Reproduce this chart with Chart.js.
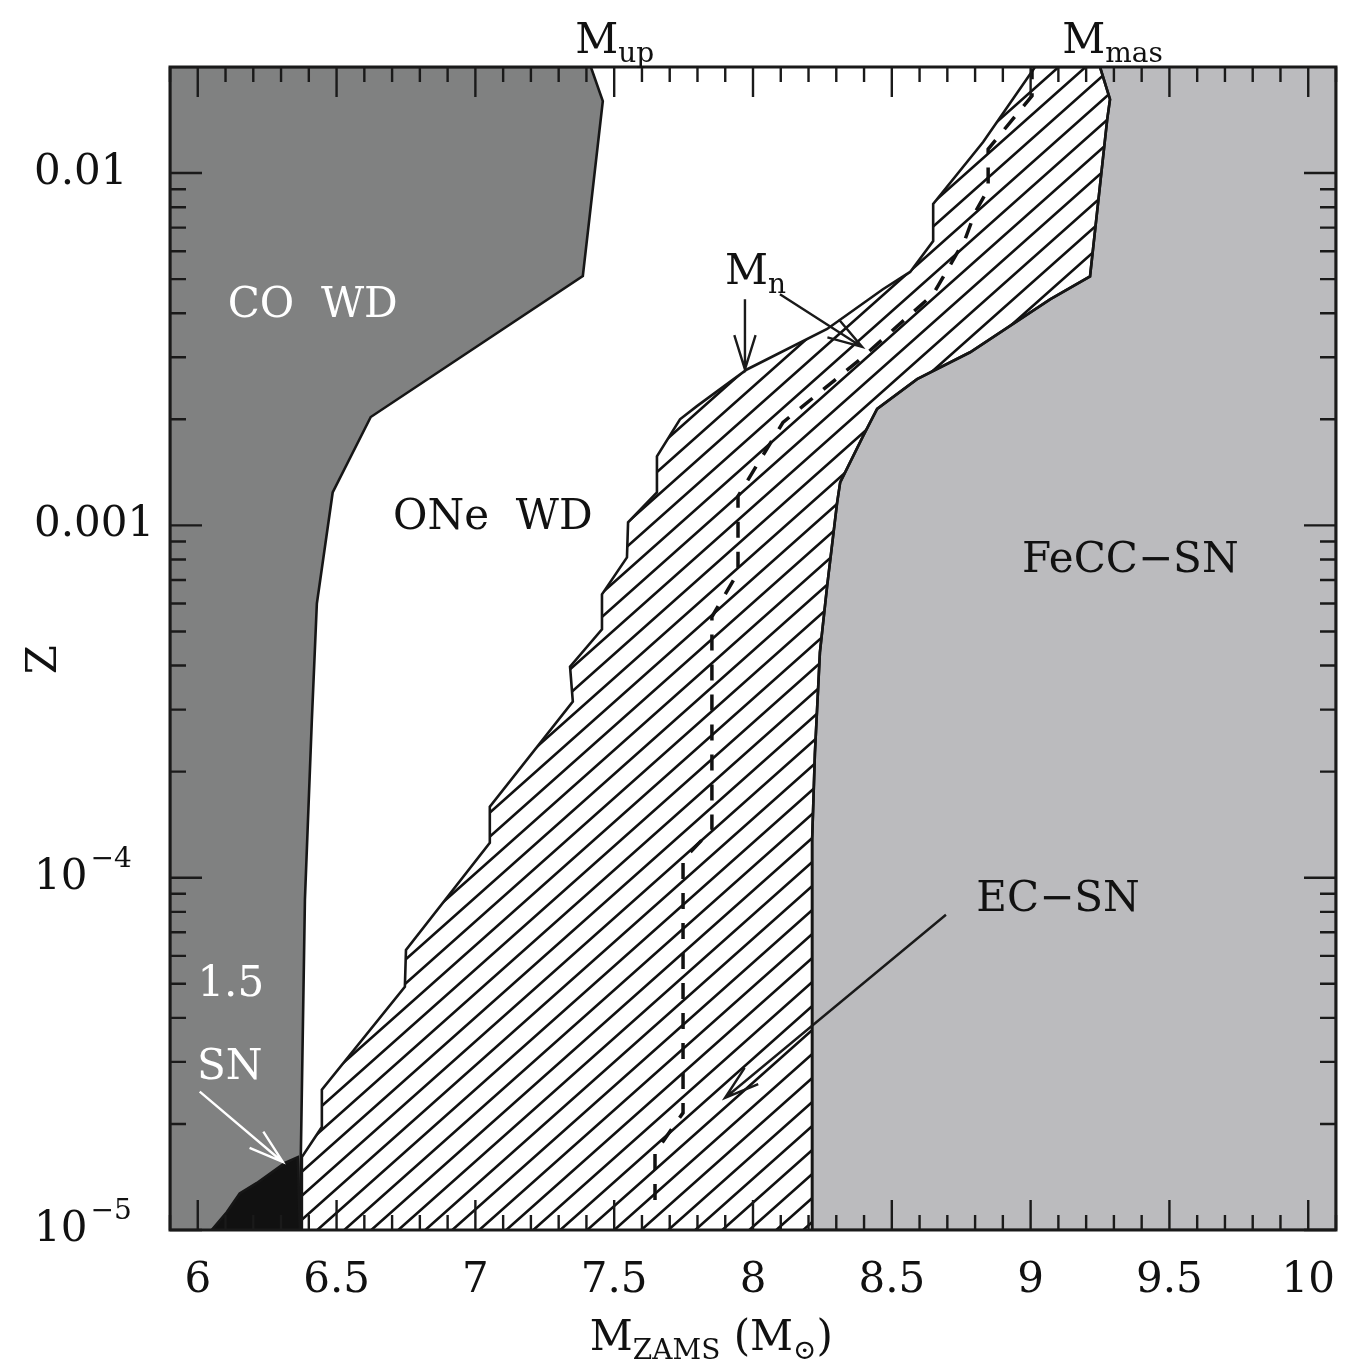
<!DOCTYPE html>
<html>
<head>
<meta charset="utf-8">
<script src="https://cdn.jsdelivr.net/npm/chart.js@4.4.1/dist/chart.umd.min.js"></script>
<style>
  html, body { margin: 0; padding: 0; background: #fff; }
  #wrap { width: 1346px; height: 1369px; position: relative; }
</style>
</head>
<body>
<div id="wrap"><canvas id="chart"></canvas></div>
<script>
// axis ranges and tick labels
const xMin = 5.9, xMax = 10.1;
const zMin = 1e-5, zMax = 0.02;
const xTickValues = [6, 6.5, 7, 7.5, 8, 8.5, 9, 9.5, 10];
const zTickValues = [1e-5, 1e-4, 1e-3, 1e-2];
const zTickBase = ["10", "10", "0.001", "0.01"];
const zTickExp = ["−5", "−4", "", ""];

// M_up : CO WD / ONe WD boundary (top to bottom)
const coMass = [7.416, 7.459, 7.387, 6.623, 6.486, 6.429, 6.411, 6.386, 6.371, 6.368];
const coZ = [0.02, 0.016, 0.0051, 0.00203, 0.00124, 6.0e-4, 2.81e-4, 8.66e-5, 1.58e-5, 1e-5];

// hybrid "1.5 SN" corner
const snMass = [6.05, 6.105, 6.151, 6.213, 6.314, 6.36, 6.368];
const snZ = [1e-5, 1.125e-5, 1.27e-5, 1.36e-5, 1.55e-5, 1.61e-5, 1e-5];

// EC-SN lower boundary (bottom to top)
const ecLowMass = [6.375, 6.375, 6.447, 6.447, 6.746, 6.750, 7.052, 7.052, 7.351, 7.341, 7.456, 7.456, 7.546,
  7.550, 7.654, 7.654, 7.737, 7.798, 7.978, 8.267, 8.468, 8.566, 8.649, 8.649, 8.829, 9.016];
const ecLowZ = [1e-5, 1.61e-5, 1.96e-5, 2.50e-5, 4.90e-5, 6.24e-5, 1.256e-4, 1.59e-4, 3.16e-4, 3.97e-4, 5.07e-4,
  6.37e-4, 8.11e-4, 1.02e-3, 1.24e-3, 1.57e-3, 2.0e-3, 2.18e-3, 2.77e-3, 3.61e-3, 4.68e-3, 5.24e-3, 6.41e-3,
  8.17e-3, 1.225e-2, 0.02];

// M_mas : EC-SN / FeCC-SN boundary (top to bottom)
const masMass = [9.25, 9.286, 9.276, 9.214, 9.070, 8.782, 8.591, 8.447, 8.396, 8.314, 8.303, 8.267, 8.241,
  8.223, 8.213, 8.213];
const masZ = [0.02, 0.0162, 0.01422, 5.09e-3, 4.38e-3, 3.10e-3, 2.60e-3, 2.14e-3, 1.79e-3, 1.325e-3, 1.16e-3,
  6.72e-4, 4.36e-4, 2.26e-4, 1.28e-4, 1e-5];

// M_n (dashed)
const mnMass = [7.647, 7.647, 7.748, 7.748, 7.852, 7.852, 7.946, 7.946, 8.108, 8.386, 8.649, 8.764, 8.8,
  8.847, 8.847, 9.005, 9.005];
const mnZ = [1.216e-5, 1.656e-5, 2.15e-5, 1.125e-4, 1.37e-4, 5.5e-4, 7.35e-4, 1.21e-3, 1.96e-3, 2.96e-3,
  4.53e-3, 6.49e-3, 7.74e-3, 9.0e-3, 0.0117, 0.01656, 0.0198];

// region labels (centre, data coords)
const regionText = ["CO  WD", "ONe  WD", "FeCC−SN", "EC−SN", "1.5", "SN"];
const regionMass = [6.414, 7.063, 9.359, 9.099, 6.119, 6.115];
const regionZ = [4.19e-3, 1.047e-3, 7.9e-4, 8.66e-5, 4.97e-5, 2.88e-5];
const regionWhite = [true, false, false, false, true, true];

// arrows: tail -> head
const arrowFrom = [[7.971, 4.38e-3], [8.097, 4.53e-3], [6.007, 2.47e-5], [8.695, 7.85e-5]];
const arrowTo = [[7.971, 2.77e-3], [8.393, 3.21e-3], [6.306, 1.56e-5], [7.899, 2.37e-5]];
const arrowWhite = [false, false, true, false];

const FONT = "DejaVu Serif";

function pts(xs, ys) {
  return xs.map((v, i) => ({ x: v, y: ys[i] }));
}

// diagonal hatch for the EC-SN band
function hatchPattern(ctx) {
  const w = 27, h = 24;
  const c = document.createElement("canvas");
  c.width = w;
  c.height = h;
  const g = c.getContext("2d");
  g.strokeStyle = "#111";
  g.lineWidth = 2.6;
  g.beginPath();
  for (const dx of [-w, 0, w]) {
    g.moveTo(dx - w, 2 * h);
    g.lineTo(dx + 2 * w, -h);
  }
  g.stroke();
  return ctx.createPattern(c, "repeat");
}

function drawSub(ctx, parts, x, y, align) {
  // parts: [text, isSub]
  const big = "42px '" + FONT + "'";
  const small = "28px '" + FONT + "'";
  let total = 0;
  for (const [t, s] of parts) {
    ctx.font = s ? small : big;
    total += ctx.measureText(t).width;
  }
  let cx = align === "center" ? x - total / 2 : x;
  ctx.textAlign = "left";
  ctx.textBaseline = "alphabetic";
  for (const [t, s] of parts) {
    ctx.font = s ? small : big;
    ctx.fillText(t, cx, s ? y + 9 : y);
    cx += ctx.measureText(t).width;
  }
}

function drawArrow(ctx, x1, y1, x2, y2, color) {
  const ang = Math.atan2(y2 - y1, x2 - x1);
  const hl = 36, ha = 0.3;
  ctx.strokeStyle = color;
  ctx.lineWidth = 2.4;
  ctx.beginPath();
  ctx.moveTo(x1, y1);
  ctx.lineTo(x2, y2);
  ctx.moveTo(x2 - hl * Math.cos(ang - ha), y2 - hl * Math.sin(ang - ha));
  ctx.lineTo(x2, y2);
  ctx.lineTo(x2 - hl * Math.cos(ang + ha), y2 - hl * Math.sin(ang + ha));
  ctx.stroke();
}

const overlay = {
  id: "overlay",
  afterDatasetsDraw(chart) {
    const { ctx, chartArea: a, scales: { x, y } } = chart;
    ctx.save();

    // inward tick marks on all four sides
    ctx.strokeStyle = "#1a1a1a";
    ctx.lineWidth = 2.4;
    ctx.beginPath();
    for (let i = Math.ceil(xMin * 10); i <= Math.floor(xMax * 10); i++) {
      const px = x.getPixelForValue(i / 10);
      const len = i % 5 === 0 ? 30 : 15;
      ctx.moveTo(px, a.bottom);
      ctx.lineTo(px, a.bottom - len);
      ctx.moveTo(px, a.top);
      ctx.lineTo(px, a.top + len);
    }
    for (let n = -5; n <= -2; n++) {
      for (let k = 1; k <= 9; k++) {
        const v = k * Math.pow(10, n);
        if (v < zMin * 0.999 || v > zMax * 0.999) continue;
        const py = y.getPixelForValue(v);
        const len = k === 1 ? 32 : 16;
        ctx.moveTo(a.left, py);
        ctx.lineTo(a.left + len, py);
        ctx.moveTo(a.right, py);
        ctx.lineTo(a.right - len, py);
      }
    }
    ctx.stroke();

    ctx.lineWidth = 3;
    ctx.strokeRect(a.left, a.top, a.right - a.left, a.bottom - a.top);

    // y tick labels
    ctx.fillStyle = "#111";
    zTickValues.forEach((v, i) => {
      const py = y.getPixelForValue(v);
      ctx.textAlign = "left";
      ctx.textBaseline = "middle";
      ctx.font = "42px '" + FONT + "'";
      ctx.fillText(zTickBase[i], a.left - 136, py);
      if (zTickExp[i]) {
        const w = ctx.measureText(zTickBase[i]).width;
        ctx.font = "28px '" + FONT + "'";
        ctx.fillText(zTickExp[i], a.left - 136 + w + 3, py - 18);
      }
    });

    // region labels
    ctx.textAlign = "center";
    ctx.textBaseline = "middle";
    ctx.font = "42px '" + FONT + "'";
    regionText.forEach((t, i) => {
      ctx.fillStyle = regionWhite[i] ? "#fff" : "#111";
      ctx.fillText(t, x.getPixelForValue(regionMass[i]), y.getPixelForValue(regionZ[i]));
    });

    // arrows
    arrowFrom.forEach((f, i) => {
      const t = arrowTo[i];
      drawArrow(ctx, x.getPixelForValue(f[0]), y.getPixelForValue(f[1]),
        x.getPixelForValue(t[0]), y.getPixelForValue(t[1]), arrowWhite[i] ? "#fff" : "#1a1a1a");
    });

    // M_n, M_up, M_mas labels
    ctx.fillStyle = "#111";
    drawSub(ctx, [["M", false], ["n", true]], x.getPixelForValue(7.899), y.getPixelForValue(4.84e-3), "left");
    drawSub(ctx, [["M", false], ["up", true]], x.getPixelForValue(7.36), a.top - 14, "left");
    drawSub(ctx, [["M", false], ["mas", true]], x.getPixelForValue(9.114), a.top - 14, "left");

    // axis titles
    drawSub(ctx, [["M", false], ["ZAMS", true], [" (M", false], ["⊙", true], [")", false]],
      x.getPixelForValue(7.85), a.bottom + 120, "center");
    ctx.save();
    ctx.translate(a.left - 125, y.getPixelForValue(4.16e-4));
    ctx.rotate(-Math.PI / 2);
    ctx.font = "42px '" + FONT + "'";
    ctx.textAlign = "center";
    ctx.textBaseline = "middle";
    ctx.fillText("Z", 0, 0);
    ctx.restore();

    ctx.restore();
  }
};

const canvas = document.getElementById("chart");
const cctx = canvas.getContext("2d");
const edge = { borderColor: "#161616", borderWidth: 2.6, pointRadius: 0, tension: 0 };

new Chart(cctx, {
  type: "line",
  data: {
    datasets: [
      {
        label: "FeCC-SN",
        data: pts([...masMass, xMax, xMax], [...masZ, zMin, zMax]),
        backgroundColor: "#bbbbbe",
        fill: "shape",
        order: 5,
        ...edge,
      },
      {
        label: "CO WD",
        data: pts([xMin, xMin, ...coMass], [zMin, zMax, ...coZ]),
        backgroundColor: "#808181",
        fill: "shape",
        order: 4,
        ...edge,
      },
      {
        label: "EC-SN",
        data: pts([...ecLowMass, ...masMass], [...ecLowZ, ...masZ]),
        backgroundColor: hatchPattern(cctx),
        fill: "shape",
        order: 3,
        ...edge,
      },
      {
        label: "1.5 SN",
        data: pts(snMass, snZ),
        backgroundColor: "#111",
        fill: "shape",
        order: 2,
        ...edge,
      },
      {
        label: "M_n",
        data: pts(mnMass, mnZ),
        borderColor: "#111",
        borderWidth: 3.5,
        borderDash: [16, 14],
        fill: false,
        pointRadius: 0,
        order: 1,
      },
    ],
  },
  options: {
    responsive: true,
    maintainAspectRatio: false,
    animation: false,
    events: [],
    layout: { padding: { top: 67, right: 10, left: 0, bottom: 0 } },
    plugins: { legend: { display: false }, tooltip: { enabled: false } },
    scales: {
      x: {
        type: "linear",
        min: xMin,
        max: xMax,
        grid: { display: false },
        border: { display: false },
        ticks: {
          font: { family: FONT, size: 42 },
          color: "#111",
          padding: 18,
          maxRotation: 0,
          autoSkip: false,
          callback: (v) => String(v),
        },
        afterBuildTicks: (s) => {
          s.ticks = xTickValues.map((v) => ({ value: v }));
        },
        afterFit: (s) => {
          s.height = 139;
          s.paddingLeft = 0;
          s.paddingRight = 0;
        },
      },
      y: {
        type: "logarithmic",
        min: zMin,
        max: zMax,
        grid: { display: false },
        border: { display: false },
        ticks: { display: false },
        afterBuildTicks: (s) => {
          s.ticks = zTickValues.map((v) => ({ value: v }));
        },
        afterFit: (s) => {
          s.width = 170;
          s.paddingTop = 0;
          s.paddingBottom = 0;
        },
      },
    },
  },
  plugins: [overlay],
});
</script>
</body>
</html>
